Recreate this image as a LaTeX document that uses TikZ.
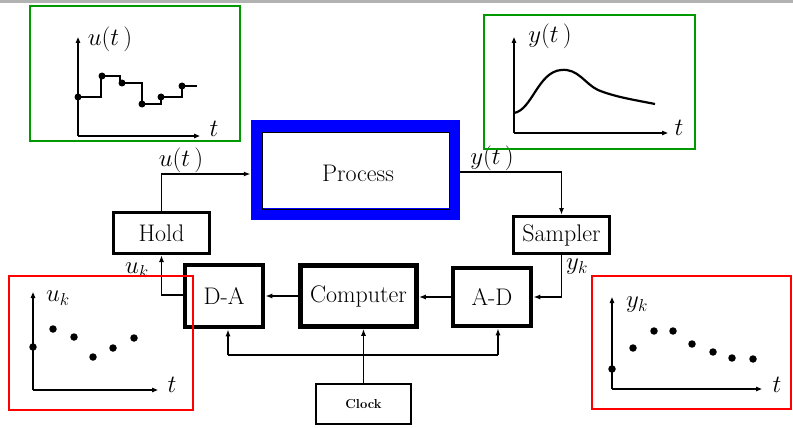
\documentclass[tikz,border=0pt]{standalone}
\usetikzlibrary{arrows.meta,calc}
\begin{document}
\begin{tikzpicture}[x=1pt,y=-1pt,
  txt/.style={font=\fontsize{24}{28}\selectfont},
  blk/.style={draw,line width=3pt,inner sep=0pt,txt},
  blkt/.style={draw,line width=4.5pt,inner sep=0pt,txt},
  conn/.style={line width=1.6pt},
  carr/.style={conn,-{Latex[length=7pt,width=5pt]}},
  axis/.style={line width=2.4pt,-{Latex[length=11pt,width=4.5pt]}},
  dot/.style={circle,fill,inner sep=0pt,minimum size=7pt},
  greenbox/.style={draw=green!60!black,line width=2pt},
  redbox/.style={draw=red,line width=2.2pt}]
\useasboundingbox (0,0) rectangle (793,428);
\fill[gray!60] (0,0) rectangle (793,3);

% blocks
\node[draw=blue,line width=11.5pt,minimum width=198pt,minimum height=88pt,txt] (process) at (355.5,170) {};
\node[txt] (proctext) at (358,173) {Process};
\draw[line width=0.8pt] ($(process.center)+(-93.5,-38)$) rectangle ($(process.center)+(93.5,39)$);
\node[blk,minimum width=96pt,minimum height=41pt] (hold) at (161.5,233) {Hold};
\node[blk,minimum width=96pt,minimum height=37pt] (sampler) at (561.5,235) {Sampler};
\node[blkt,minimum width=78pt,minimum height=62pt] (da) at (224,296) {D-A};
\node[blkt,minimum width=116pt,minimum height=61pt] (computer) at (358.5,296) {Computer};
\node[blkt,minimum width=78pt,minimum height=58pt] (ad) at (492,297) {A-D};
\node[draw,line width=2pt,minimum width=95pt,minimum height=40pt,font=\fontsize{13}{15}\selectfont\bfseries] (clock) at (363.5,404) {Clock};

% connectors
\draw[carr] (hold.north) |- ($(process.west)+(0,4)$);
\node[txt] (ut) at (181,160) {$u(t\,)$};
\draw[carr] ($(process.east)+(0,2)$) -| (sampler.north);
\node[txt] (yt) at (492,158) {$y(t\,)$};
\draw[carr] (sampler.south) |- (ad.east);
\node[txt] (yk) at (577,267) {$y_k$};
\draw[carr] (ad.west) -- (ad.west -| computer.east);
\draw[carr] (computer.west) -- (computer.west -| da.east);
\draw[carr] ($(da.west)+(0,-1)$) -| (hold.south);
\node[txt] (uk) at (137,270) {$u_k$};
\draw[carr] (clock.north) -- (clock.north |- computer.south);
\coordinate (busL) at (228,355);
\coordinate (busR) at (498,355);
\draw[conn] (busL) -- (busR);
\draw[carr] (busL) -- (busL |- da.south);
\draw[carr] (busR) -- (busR |- ad.south);

% top-left plot u(t)
\draw[greenbox] (30,6) rectangle (240,141);
\draw[axis] (78,136) -- (78,32);
\draw[axis] (78,136) -- (205,136);
\node[txt] (ulab) at (110,39) {$u(t\,)$};
\node[txt] (tl1) at (214,129) {$t$};
\draw[line width=2.2pt] (78,97) -- (101,97) -- (101,76) -- (120,76) -- (120,83) -- (142,83) -- (142,104) -- (161,104) -- (161,97) -- (182,97) -- (182,86) -- (197,86);
\foreach \p in {(78,97),(102,76),(122,83),(142,104),(161,97),(182,86)} \node[dot] at \p {};

% top-right plot y(t)
\draw[greenbox] (484,15) rectangle (695,149);
\draw[axis] (514,133) -- (514,32);
\draw[axis] (514,133) -- (673,133);
\node[txt] (ylab) at (550,36) {$y(t\,)$};
\node[txt] (tl2) at (679,128) {$t$};
\draw[line width=2.2pt] (514,113) .. controls (532,110) and (538,72) .. (561,70) .. controls (578,68) and (585,84) .. (598,90) .. controls (615,97) and (635,100) .. (655,104);

% bottom-left plot u_k
\draw[redbox] (9,276) rectangle (193,410);
\draw[axis] (33,390) -- (33,287);
\draw[axis] (33,390) -- (163,390);
\node[txt] (uklab) at (58,298) {$u_k$};
\node[txt] (tl3) at (172,385) {$t$};
\foreach \p in {(33,347),(53,329),(74,337),(93,357),(113,348),(134,338)} \node[dot,minimum size=7.5pt] at \p {};

% bottom-right plot y_k
\draw[redbox] (592,276) rectangle (791,409);
\draw[axis] (612,389) -- (612,292);
\draw[axis] (612,389) -- (767,389);
\node[txt] (yklab) at (637,305) {$y_k$};
\node[txt] (tl4) at (777,385) {$t$};
\foreach \p in {(612,369),(633,348),(654,331),(673,331),(692,344),(713,352),(732,358),(753,359)} \node[dot,minimum size=7.5pt] at \p {};
\end{tikzpicture}
\end{document}
